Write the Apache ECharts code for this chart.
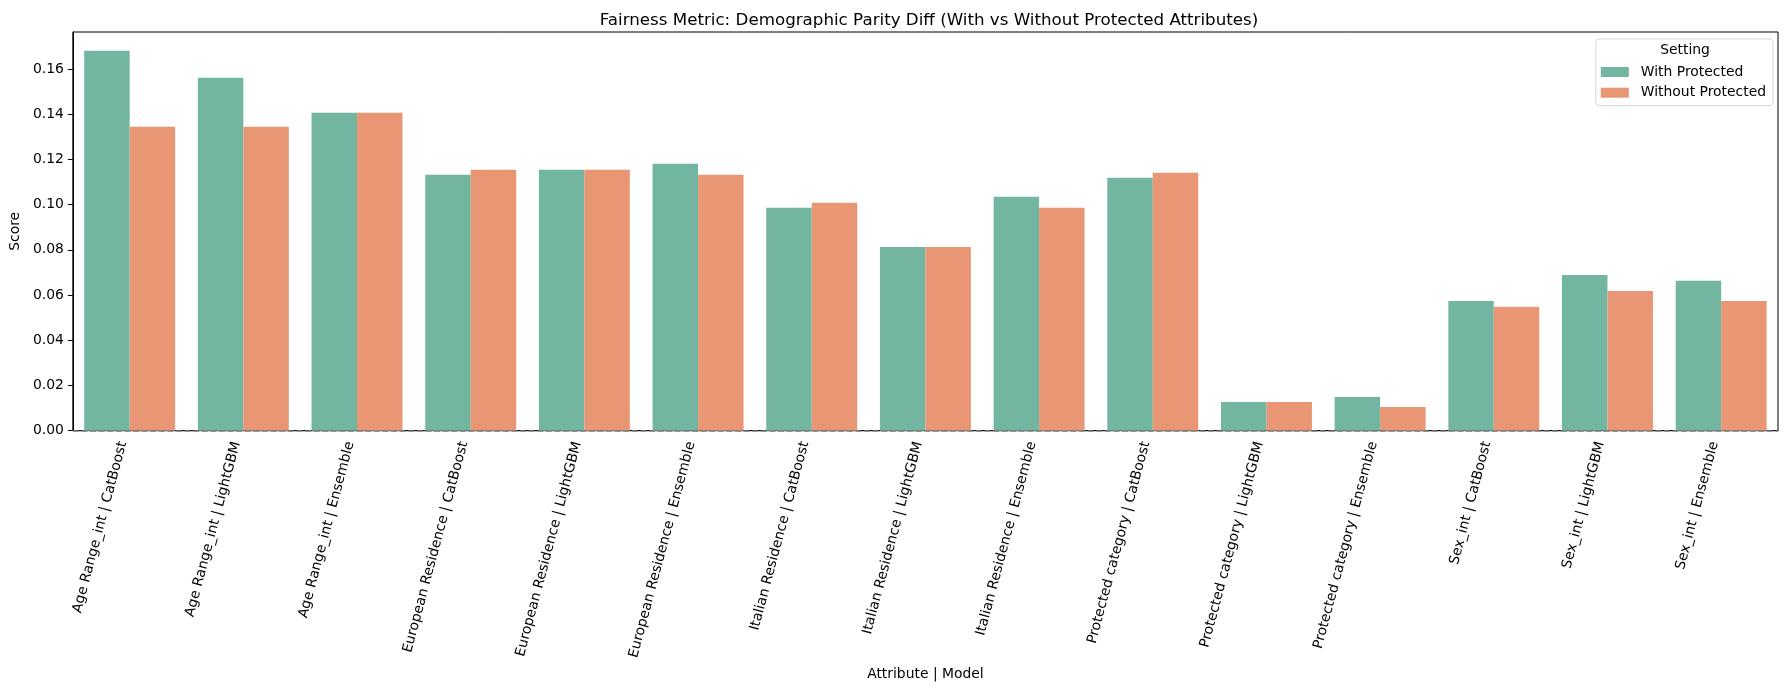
<!DOCTYPE html>
<html>
<head>
<meta charset="utf-8">
<title>Fairness Metric</title>
<script src="https://cdn.jsdelivr.net/npm/echarts@6/dist/echarts.min.js"></script>
<style>
  html, body { margin: 0; padding: 0; background: #fff; }
  #chart { width: 1790px; height: 690px; }
</style>
</head>
<body>
<div id="chart"></div>
<script>
// categories: attribute | model
var categories = [
  'Age Range_int | CatBoost', 'Age Range_int | LightGBM', 'Age Range_int | Ensemble',
  'European Residence | CatBoost', 'European Residence | LightGBM', 'European Residence | Ensemble',
  'Italian Residence | CatBoost', 'Italian Residence | LightGBM', 'Italian Residence | Ensemble',
  'Protected category | CatBoost', 'Protected category | LightGBM', 'Protected category | Ensemble',
  'Sex_int | CatBoost', 'Sex_int | LightGBM', 'Sex_int | Ensemble'
];
var withProtected = [
  0.1681, 0.1562, 0.1407,
  0.1132, 0.1154, 0.1181,
  0.0986, 0.0813, 0.1035,
  0.1119, 0.0127, 0.0149,
  0.0574, 0.0689, 0.0663
];
var withoutProtected = [
  0.1345, 0.1345, 0.1407,
  0.1154, 0.1154, 0.1132,
  0.1008, 0.0813, 0.0986,
  0.1141, 0.0127, 0.0105,
  0.0548, 0.0618, 0.0574
];
var seriesNames = ['With Protected', 'Without Protected'];
var yTicks = [0, 0.02, 0.04, 0.06, 0.08, 0.10, 0.12, 0.14, 0.16];

var font = 'DejaVu Sans';
var chart = echarts.init(document.getElementById('chart'));

var option = {
    animation: false,
    textStyle: { fontFamily: font },
    color: ['#72b6a1', '#e99675'],
    title: [
        {
            text: 'Fairness Metric: Demographic Parity Diff (With vs Without Protected Attributes)',
            left: 924,
            top: 7,
            textAlign: 'center',
            textStyle: { fontFamily: font, fontSize: 16.7, fontWeight: 'normal', color: '#000' }
        },
        {
            text: 'Setting',
            left: 1685,
            top: 43,
            textAlign: 'center',
            padding: 0,
            textStyle: { fontFamily: font, fontSize: 13.9, fontWeight: 'normal', color: '#000' }
        }
    ],
    legend: {
        data: seriesNames,
        orient: 'vertical',
        right: 17,
        top: 39,
        padding: [25, 7, 5, 5],
        itemWidth: 28,
        itemHeight: 10,
        itemGap: 4.7,
        icon: 'rect',
        borderColor: '#d6d6d6',
        borderWidth: 1,
        borderRadius: 3,
        backgroundColor: '#fff',
        textStyle: { fontFamily: font, fontSize: 13.9, color: '#000', lineHeight: 16, padding: [0, 0, 0, 7] }
    },
    grid: {
        left: 70,
        right: 12,
        top: 32,
        bottom: 259.3,
        show: true,
        borderColor: '#000',
        borderWidth: 1,
        backgroundColor: 'transparent'
    },
    xAxis: {
        type: 'category',
        data: categories,
        name: 'Attribute | Model',
        nameLocation: 'middle',
        nameGap: 233,
        nameTextStyle: { fontFamily: font, fontSize: 13.9, color: '#000' },
        axisLine: { lineStyle: { color: '#000', width: 1 } },
        axisTick: { alignWithLabel: true, length: 5, lineStyle: { color: '#000' } },
        axisLabel: {
            rotate: 75,
            interval: 0,
            margin: 13,
            align: 'right',
            verticalAlign: 'bottom',
            fontFamily: font,
            fontSize: 13.9,
            color: '#000'
        }
    },
    yAxis: {
        type: 'value',
        min: 0,
        max: 0.1764,
        interval: 0.02,
        name: 'Score',
        nameLocation: 'middle',
        nameGap: 47,
        nameTextStyle: { fontFamily: font, fontSize: 13.9, color: '#000' },
        splitLine: { show: false },
        axisLine: { show: true, lineStyle: { color: '#000', width: 1 } },
        axisTick: { show: true, length: 5, lineStyle: { color: '#000' } },
        axisLabel: {
            margin: 9,
            fontFamily: font,
            fontSize: 13.9,
            color: '#000',
            showMaxLabel: false,
            formatter: function (v) {
                return yTicks.some(function (t) { return Math.abs(t - v) < 1e-9; }) ? v.toFixed(2) : '';
            }
        }
    },
    series: [
        {
            name: seriesNames[0],
            type: 'bar',
            data: withProtected,
            barGap: '0%',
            barCategoryGap: '20%',
            markLine: {
                silent: true,
                symbol: 'none',
                label: { show: false },
                lineStyle: { color: '#808080', type: [6, 2.6], width: 1.5 },
                data: [{ yAxis: 0 }],
                z: 10
            }
        },
        {
            name: seriesNames[1],
            type: 'bar',
            data: withoutProtected,
            barGap: '0%',
            barCategoryGap: '20%'
        }
    ]
};

chart.setOption(option);
</script>
</body>
</html>
